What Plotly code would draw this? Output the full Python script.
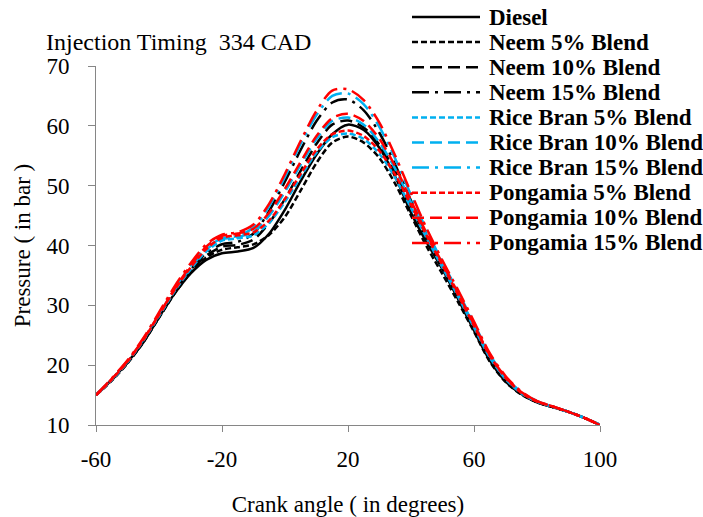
import plotly.graph_objects as go

crank_angle = [-60, -55, -50, -45, -40, -35, -30, -25, -20, -15, -10, -5, 0, 5, 10, 15, 20,
               25, 30, 35, 40, 45, 50, 55, 60, 65, 70, 75, 80, 85, 90, 95, 100]

diesel = [15.0, 17.6, 20.5, 23.8, 28.0, 32.0, 35.3, 37.6, 38.7, 39.0, 39.6, 42.0, 46.0, 50.8, 55.2, 58.6, 60.2,
          59.3, 56.3, 51.5, 45.5, 40.5, 36.0, 31.0, 25.8, 20.8, 17.3, 15.2, 13.8, 13.0, 12.2, 11.2, 10.0]
neem_5 = [15.0, 17.4, 20.3, 23.8, 27.9, 32.0, 35.4, 38.0, 39.3, 39.7, 40.2, 41.8, 44.8, 49.2, 53.8, 57.2, 58.2,
          57.2, 54.6, 50.3, 45.0, 39.8, 35.2, 30.5, 25.6, 20.6, 17.2, 15.1, 13.8, 13.0, 12.2, 11.2, 10.0]
neem_10 = [15.0, 17.5, 20.4, 23.9, 28.0, 32.1, 35.6, 38.3, 39.8, 40.1, 41.0, 43.8, 47.8, 52.5, 57.0, 60.2, 60.9,
           59.7, 56.8, 52.3, 46.6, 41.0, 36.1, 31.2, 26.1, 21.0, 17.4, 15.2, 13.8, 13.0, 12.2, 11.2, 10.0]
neem_15 = [15.0, 17.6, 20.5, 24.0, 28.2, 32.4, 35.9, 38.7, 40.2, 40.6, 42.0, 45.8, 50.7, 56.0, 60.8, 63.9, 64.4,
           62.6, 58.8, 53.5, 47.5, 41.7, 36.6, 31.6, 26.4, 21.3, 17.6, 15.3, 13.9, 13.0, 12.2, 11.2, 10.0]
rice_5 = [15.0, 17.5, 20.5, 24.1, 28.2, 32.4, 36.0, 39.0, 40.8, 41.2, 41.7, 43.8, 47.3, 51.5, 55.5, 58.1, 58.7,
          57.8, 55.3, 51.3, 46.3, 41.2, 36.3, 31.4, 26.3, 21.3, 17.7, 15.3, 13.9, 13.0, 12.2, 11.2, 10.0]
rice_10 = [15.0, 17.6, 20.6, 24.2, 28.4, 32.6, 36.2, 39.3, 41.0, 41.4, 42.3, 45.0, 49.0, 53.5, 57.8, 60.8, 61.4,
           60.2, 57.2, 52.8, 47.2, 41.7, 36.7, 31.8, 26.6, 21.5, 17.8, 15.4, 13.9, 13.1, 12.2, 11.2, 10.0]
rice_15 = [15.0, 17.7, 20.7, 24.3, 28.6, 32.9, 36.6, 39.6, 41.2, 41.6, 43.0, 46.6, 51.5, 57.0, 61.8, 65.0, 65.4,
           63.6, 59.8, 54.5, 48.4, 42.5, 37.2, 32.2, 27.0, 21.8, 18.0, 15.5, 14.0, 13.1, 12.2, 11.2, 10.0]
pong_5 = [15.0, 17.6, 20.6, 24.2, 28.4, 32.6, 36.3, 39.4, 41.3, 41.7, 42.2, 44.2, 47.8, 52.0, 56.0, 58.6, 59.2,
          58.3, 55.8, 51.8, 46.8, 41.6, 36.7, 31.7, 26.6, 21.6, 17.9, 15.4, 13.9, 13.1, 12.2, 11.2, 10.0]
pong_10 = [15.0, 17.7, 20.7, 24.3, 28.5, 32.8, 36.6, 39.8, 41.6, 42.0, 42.8, 45.5, 49.5, 54.0, 58.3, 61.3, 62.0,
           60.8, 57.8, 53.2, 47.5, 42.0, 37.0, 32.0, 26.8, 21.7, 18.0, 15.5, 14.0, 13.1, 12.2, 11.2, 10.0]
pong_15 = [15.0, 17.8, 20.8, 24.5, 28.8, 33.2, 37.0, 40.2, 41.8, 42.2, 43.5, 47.0, 52.0, 57.5, 62.5, 65.9, 66.1,
           64.3, 60.5, 55.0, 48.8, 42.8, 37.5, 32.5, 27.3, 22.0, 18.2, 15.6, 14.0, 13.1, 12.2, 11.2, 10.0]

series_names = ["Diesel", "Neem 5% Blend", "Neem 10% Blend", "Neem 15% Blend",
                "Rice Bran 5% Blend", "Rice Bran 10% Blend", "Rice Bran 15% Blend",
                "Pongamia 5% Blend", "Pongamia 10% Blend", "Pongamia 15% Blend"]
series_values = [diesel, neem_5, neem_10, neem_15, rice_5, rice_10, rice_15, pong_5, pong_10, pong_15]

x_tick_values = [-60, -20, 20, 60, 100]
x_tick_labels = ["-60", "-20", "20", "60", "100"]
y_tick_values = [10, 20, 30, 40, 50, 60, 70]
y_tick_labels = ["10", "20", "30", "40", "50", "60", "70"]

BLACK, BLUE, RED = "#000000", "#00B0F0", "#FF0000"
SOLID, DOT, DASH, DASHDOT = "solid", "6px,3px", "12px,6px", "17px,6px,3px,6px"
series_colors = [BLACK, BLACK, BLACK, BLACK, BLUE, BLUE, BLUE, RED, RED, RED]
series_dashes = [SOLID, DOT, DASH, DASHDOT, DOT, DASH, DASHDOT, DOT, DASH, DASHDOT]

FONT = "Liberation Serif"
W, H = 703, 517
ML, MR, MT, MB = 96, 103, 66, 92
PW, PH = W - ML - MR, H - MT - MB

def px_to_paper_x(px):
    return (px - ML) / PW

def px_to_paper_y(py):
    return (H - MB - py) / PH

fig = go.Figure()
for name, vals, col, dash in zip(series_names, series_values, series_colors, series_dashes):
    fig.add_trace(go.Scatter(
        x=crank_angle, y=vals, mode="lines", name=name,
        line=dict(color=col, dash=dash, width=2.5, shape="spline", smoothing=0.8),
        showlegend=False,
    ))

# custom legend (wide line samples, tight row spacing like the original)
shapes = []
annotations = []
leg_line_x0, leg_line_x1, leg_text_x = 412, 480, 487
leg_top, leg_step = 17, 25.1
for i, (name, col, dash) in enumerate(zip(series_names, series_colors, series_dashes)):
    yy = px_to_paper_y(leg_top + i * leg_step)
    shapes.append(dict(type="line", xref="paper", yref="paper",
                       x0=px_to_paper_x(leg_line_x0), x1=px_to_paper_x(leg_line_x1), y0=yy, y1=yy,
                       line=dict(color=col, dash=dash, width=2.5)))
    annotations.append(dict(text="<b>" + name + "</b>", xref="paper", yref="paper",
                            x=px_to_paper_x(leg_text_x), y=yy, xanchor="left", yanchor="middle",
                            showarrow=False, font=dict(family=FONT, size=23, color="black")))

annotations.append(dict(text="Injection Timing  334 CAD", xref="paper", yref="paper",
                        x=px_to_paper_x(44), y=px_to_paper_y(42), xanchor="left", yanchor="middle",
                        showarrow=False, font=dict(family=FONT, size=24, color="black")))

axis_common = dict(showline=True, linecolor="#868686", linewidth=1, ticks="outside",
                   tickcolor="#868686", showgrid=False, zeroline=False, automargin=False,
                   tickfont=dict(family=FONT, size=23, color="black"))

fig.update_layout(
    width=W, height=H,
    margin=dict(l=ML, r=MR, t=MT, b=MB, pad=0),
    paper_bgcolor="white", plot_bgcolor="white",
    showlegend=False,
    shapes=shapes, annotations=annotations,
    xaxis=dict(range=[-60, 100], tickvals=x_tick_values, ticktext=x_tick_labels,
               ticklen=6, ticklabelstandoff=7,
               title=dict(text="Crank angle ( in degrees)", standoff=32,
                          font=dict(family=FONT, size=23, color="black")),
               **axis_common),
    yaxis=dict(range=[10, 70], tickvals=y_tick_values, ticktext=y_tick_labels,
               ticklen=7, ticklabelstandoff=14,
               title=dict(text="Pressure ( in bar )", standoff=9,
                          font=dict(family=FONT, size=23, color="black")),
               **axis_common),
)

fig.write_html("out.html")
